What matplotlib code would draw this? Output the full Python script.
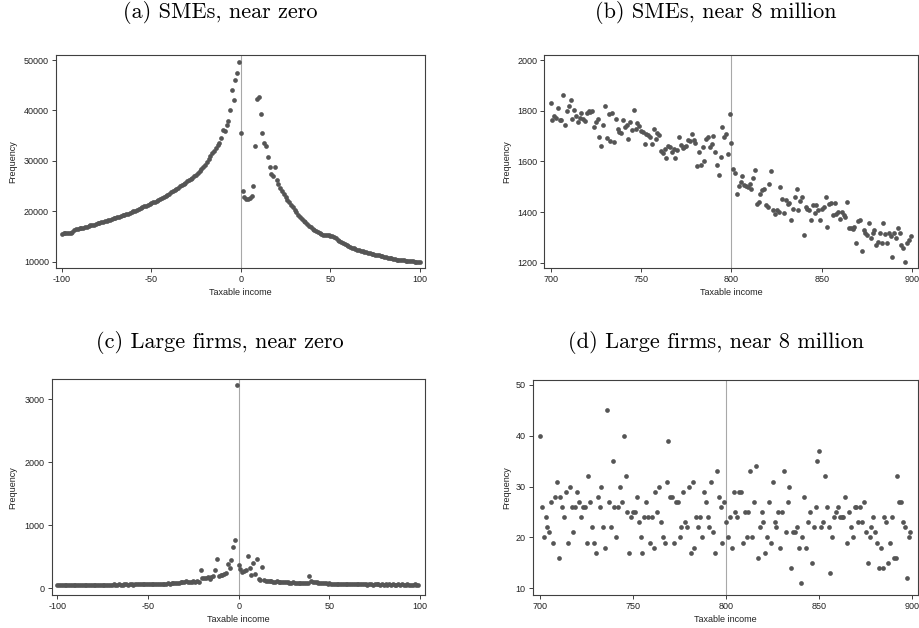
import matplotlib
matplotlib.use("Agg")
import matplotlib.pyplot as plt
import numpy as np

# ---------------- data ----------------
titles = ["(a) SMEs, near zero", "(b) SMEs, near 8 million",
          "(c) Large firms, near zero", "(d) Large firms, near 8 million"]

x_near_zero_start = -100
x_near_8m_start = 700

sme_zero = [15600, 15650, 15700, 15650, 15750, 15800, 16000, 16300, 16500, 16600,
            16650, 16700, 16800, 16900, 17000, 17200, 17250, 17350, 17400, 17550,
            17700, 17750, 17900, 18000, 18100, 18200, 18250, 18400, 18500, 18650,
            18800, 18900, 19000, 19100, 19250, 19350, 19500, 19600, 19750, 19850,
            20000, 20150, 20300, 20500, 20650, 20800, 21000, 21150, 21350, 21500,
            21650, 21800, 21950, 22150, 22350, 22550, 22700, 22900, 23100, 23350,
            23550, 23800, 24000, 24250, 24500, 24750, 25000, 25250, 25450, 25700,
            25950, 26200, 26450, 26700, 26950, 27250, 27550, 27950, 28350, 28800,
            29300, 29800, 30300, 30900, 31500, 32000, 32600, 33200, 33600, 34500,
            36200, 36000, 37100, 38000, 40000, 44000, 42100, 46000, 47500, 49700,
            35600,
            24000, 22900, 22500, 22400, 22700, 23000, 25100, 32900, 42300, 42700,
            39400, 35600, 33500, 33000, 30800, 28900, 27500, 27100, 28800, 26300,
            25400, 24700, 24000, 23400, 22800, 22300, 21800, 21300, 20800, 20300,
            19850, 19400, 19000, 18600, 18200, 17850, 17500, 17200, 16900, 16600,
            16350, 16100, 15850, 15650, 15500, 15400, 15350, 15300, 15250, 15150,
            15050, 14900, 14700, 14450, 14200, 14000, 13800, 13600, 13400, 13200,
            13000, 12850, 12700, 12550, 12450, 12400, 12200, 12100, 12000, 11900,
            11850, 11750, 11650, 11550, 11450, 11400, 11300, 11200, 11100, 11000,
            10900, 10850, 10750, 10700, 10600, 10550, 10450, 10400, 10350, 10300,
            10300, 10250, 10200, 10150, 10100, 10100, 10050, 10000, 10000, 10050]

sme_8m = [1832, 1763, 1779, 1770, 1811, 1762, 1762, 1861, 1742, 1800,
          1818, 1842, 1766, 1801, 1780, 1755, 1772, 1789, 1767, 1759,
          1792, 1799, 1795, 1800, 1737, 1757, 1766, 1697, 1661, 1742,
          1820, 1693, 1788, 1682, 1791, 1678, 1768, 1726, 1717, 1712,
          1763, 1734, 1742, 1690, 1757, 1724, 1801, 1726, 1750, 1739,
          1721, 1717, 1668, 1708, 1703, 1697, 1667, 1729, 1688, 1711,
          1704, 1642, 1634, 1647, 1614, 1661, 1658, 1636, 1650, 1612,
          1646, 1695, 1663, 1654, 1655, 1661, 1684, 1682, 1708, 1684,
          1671, 1583, 1637, 1587, 1655, 1601, 1687, 1695, 1658, 1668,
          1701, 1638, 1584, 1546, 1618, 1734, 1697, 1707, 1628, 1787,
          1674, 1570, 1553, 1472, 1504, 1518, 1543, 1508, 1504, 1500,
          1510, 1489, 1536, 1566, 1430, 1439, 1470, 1486, 1489, 1429,
          1421, 1512, 1562, 1409, 1392, 1410, 1399, 1497, 1450, 1396,
          1446, 1432, 1435, 1368, 1414, 1458, 1491, 1408, 1445, 1461,
          1309, 1421, 1414, 1410, 1367, 1429, 1395, 1429, 1410, 1367,
          1414, 1421, 1461, 1341, 1432, 1435, 1387, 1437, 1391, 1399,
          1371, 1400, 1387, 1382, 1438, 1339, 1336, 1334, 1342, 1276,
          1366, 1368, 1247, 1329, 1318, 1309, 1358, 1296, 1316, 1329,
          1271, 1283, 1318, 1276, 1358, 1313, 1276, 1318, 1305, 1224,
          1318, 1296, 1336, 1316, 1270, 1257, 1204, 1279, 1289, 1307]

large_zero = [50, 48, 52, 50, 47, 52, 55, 50, 53, 48,
              55, 58, 52, 50, 55, 57, 53, 50, 52, 55,
              58, 55, 53, 57, 60, 55, 58, 60, 57, 55,
              60, 62, 58, 60, 63, 60, 58, 62, 65, 60,
              62, 65, 60, 63, 66, 62, 68, 65, 63, 67,
              70, 66, 68, 72, 68, 70, 73, 70, 75, 72,
              75, 78, 74, 80, 85, 82, 88, 92, 95, 100,
              105, 115, 100, 95, 105, 110, 100, 115,
              105, 290, 160, 170, 165, 175, 140, 180, 190, 286,
              470, 200, 210, 215, 230, 240, 380, 330, 455, 660, 765,
              3230,
              370, 300, 255, 280, 290, 515, 320, 210, 405, 220,
              470, 150, 135, 335, 125, 120, 118, 110, 115, 108,
              105, 110, 100, 104, 98, 100, 95, 97, 92, 90,
              95, 88, 90, 85, 88, 82, 85, 80, 90, 195,
              110, 100, 95, 105, 90, 85, 88, 80, 82, 75,
              78, 72, 75, 70, 73, 68, 70, 72, 66, 68,
              70, 65, 68, 66, 63, 67, 64, 66, 62, 65,
              63, 60, 64, 62, 60, 63, 61, 64, 60, 62,
              60, 63, 58, 61, 60, 62, 58, 60, 62, 59,
              61, 58, 60, 62, 57, 60, 59, 61, 58, 60]

large_8m = [40, 26, 20, 24, 22, 21, 27, 19, 28, 31,
            16, 28, 26, 24, 29, 19, 30, 26, 21, 26,
            29, 27, 24, 26, 26, 19, 32, 27, 22, 19,
            17, 28, 26, 30, 22, 18, 45, 27, 22, 35,
            26, 20, 26, 30, 27, 40, 32, 25, 17, 24,
            25, 25, 28, 23, 20, 17, 24, 27, 24, 19,
            24, 18, 29, 25, 30, 23, 20, 19, 31, 39,
            28, 28, 19, 27, 27, 20, 22, 29, 23, 22,
            30, 17, 31, 18, 24, 22, 24, 20, 29, 27,
            24, 22, 31, 21, 17, 33, 28, 26, 19, 27,
            23, 20, 24, 18, 29, 25, 24, 29, 29, 19,
            25, 20, 25, 33, 20, 27, 34, 16, 22, 25,
            23, 17, 20, 27, 19, 31, 23, 22, 25, 18,
            25, 33, 21, 27, 30, 14, 21, 21, 22, 18,
            11, 20, 28, 18, 23, 25, 15, 22, 26, 35,
            37, 22, 23, 32, 26, 22, 13, 20, 24, 25,
            26, 24, 24, 24, 28, 19, 25, 22, 20, 26,
            26, 23, 26, 23, 27, 21, 15, 20, 22, 24,
            21, 19, 14, 18, 14, 24, 23, 15, 19, 24,
            16, 16, 32, 27, 27, 23, 22, 12, 20, 21]

xt_zero = [-100, -50, 0, 50, 100]
xt_8m = [700, 750, 800, 850, 900]
yt_a = [10000, 20000, 30000, 40000, 50000]
yt_b = [1200, 1400, 1600, 1800, 2000]
yt_c = [0, 1000, 2000, 3000]
yt_d = [10, 20, 30, 40, 50]

# ---------------- figure ----------------
W, H = 919, 628
fig = plt.figure(figsize=(W / 100, H / 100), dpi=100)

def px_rect(l, r, t, b):
    return [l / W, 1 - b / H, (r - l) / W, (b - t) / H]

panels = [
    dict(rect=px_rect(56, 425, 54.7, 268), x0=x_near_zero_start, y=sme_zero,
         xt=xt_zero, yt=yt_a, xlim=(-103.2, 102.8), ylim=(8810, 51050), vline=0,
         ylab_x=13),
    dict(rect=px_rect(544.3, 918.3, 54.7, 268.3), x0=x_near_8m_start, y=sme_8m,
         xt=xt_8m, yt=yt_b, xlim=(696.5, 903.3), ylim=(1178, 2021), vline=800,
         ylab_x=507),
    dict(rect=px_rect(51.7, 425.3, 379.3, 595), x0=x_near_zero_start, y=large_zero,
         xt=xt_zero, yt=yt_c, xlim=(-103.1, 102.9), ylim=(-106, 3317), vline=0,
         ylab_x=13),
    dict(rect=px_rect(532.7, 918.3, 380, 595), x0=x_near_8m_start, y=large_8m,
         xt=xt_8m, yt=yt_d, xlim=(696.1, 903.2), ylim=(8.68, 50.98), vline=800,
         ylab_x=507),
]

sans = "Liberation Sans"
fs = 6.5
spine_col = "#404040"
dot_col = "#555555"

for p in panels:
    ax = fig.add_axes(p["rect"])
    y = np.array(p["y"])
    x = p["x0"] + np.arange(len(y))
    ax.axvline(p["vline"], color="#a8a8a8", lw=0.8, zorder=1)
    ax.plot(x, y, linestyle="none", marker="o", ms=3.4, mfc=dot_col, mec=dot_col,
            mew=0, zorder=3)
    ax.set_xlim(*p["xlim"])
    ax.set_ylim(*p["ylim"])
    ax.set_xticks(p["xt"])
    ax.set_yticks(p["yt"])
    ax.set_xticklabels([str(v) for v in p["xt"]], fontsize=fs, family=sans, color="#222222")
    ax.set_yticklabels([str(v) for v in p["yt"]], fontsize=fs, family=sans, color="#222222")
    ax.tick_params(direction="out", length=3, width=0.7, color=spine_col, pad=2)
    for s in ax.spines.values():
        s.set_color(spine_col)
        s.set_linewidth(0.8)
    ax.set_xlabel("Taxable income", fontsize=fs, family=sans, color="#222222", labelpad=3)
    pos = ax.get_position()
    fig.text(p["ylab_x"] / W, pos.y0 + pos.height / 2, "Frequency", rotation=90,
             ha="center", va="center", fontsize=fs, family=sans, color="#222222")

title_pos = [(220, 13), (716, 13), (220, 343), (716, 343)]
for t, (tx, ty) in zip(titles, title_pos):
    fig.text(tx / W, 1 - ty / H, t, ha="center", va="center", fontsize=16,
             family="cmr10", color="black")

fig.savefig("out.png", dpi=100)
